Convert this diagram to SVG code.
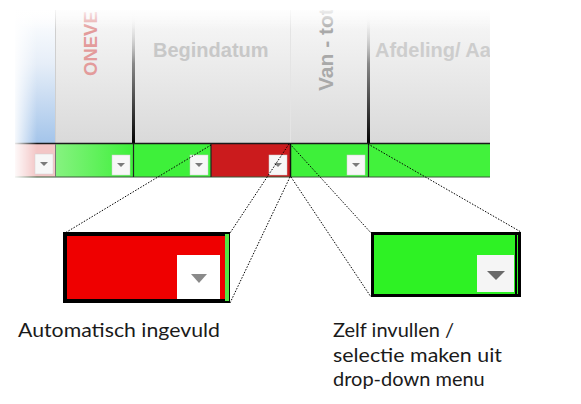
<svg xmlns="http://www.w3.org/2000/svg" width="581" height="404" viewBox="0 0 581 404">
<defs>
<linearGradient id="hdr" x1="0" y1="0" x2="0" y2="1">
<stop offset="0" stop-color="#f8f8f8"/>
<stop offset="0.2" stop-color="#f2f2f2"/>
<stop offset="1" stop-color="#d9d9d9"/>
</linearGradient>
<linearGradient id="blue" x1="0" y1="0" x2="0" y2="1">
<stop offset="0" stop-color="#ffffff"/>
<stop offset="0.4" stop-color="#e6eef8"/>
<stop offset="1" stop-color="#a3c4ea"/>
</linearGradient>
<linearGradient id="blk" x1="0" y1="0" x2="0" y2="1">
<stop offset="0" stop-color="#ffffff" stop-opacity="0"/>
<stop offset="0.4" stop-color="#888888"/>
<stop offset="1" stop-color="#000000"/>
</linearGradient>
<linearGradient id="leftfade" x1="0" y1="0" x2="1" y2="0">
<stop offset="0" stop-color="#ffffff" stop-opacity="0.9"/>
<stop offset="1" stop-color="#ffffff" stop-opacity="0"/>
</linearGradient>
<linearGradient id="topfade" x1="0" y1="0" x2="0" y2="1">
<stop offset="0" stop-color="#ffffff" stop-opacity="0.9"/>
<stop offset="1" stop-color="#ffffff" stop-opacity="0"/>
</linearGradient>
<linearGradient id="grn" x1="0" y1="0" x2="1" y2="0">
<stop offset="0" stop-color="#86f280"/>
<stop offset="1" stop-color="#3ef03a"/>
</linearGradient>
<clipPath id="hclip"><rect x="15" y="10" width="475" height="168"/></clipPath>
<g id="btn">
<rect x="0" y="0" width="18" height="20" fill="#f7f7f7" stroke="#d0d0d0" stroke-width="0.5"/>
<polygon points="5,8 13,8 9,12" fill="#7a7a7a"/>
</g>
</defs>
<style>
.dot{fill:none;stroke:#000;stroke-width:1;stroke-dasharray:1.5 1.5}
.hd{font-family:"Liberation Sans",Arial,sans-serif;font-weight:bold}
.lbl{font-family:Lato,"Noto Sans",sans-serif;font-size:20px;fill:#1a1a1a}
</style>
<rect width="581" height="404" fill="#ffffff"/>

<g id="table" clip-path="url(#hclip)">
<rect x="15" y="10" width="475" height="134" fill="url(#hdr)"/>
<rect x="15" y="10" width="40" height="134" fill="url(#blue)"/>
<line x1="55.5" y1="10" x2="55.5" y2="144" stroke="#cfcfcf" stroke-width="1"/>
<line x1="290.5" y1="10" x2="290.5" y2="144" stroke="#e4e4e4" stroke-width="1"/>
<rect x="132" y="10" width="3" height="134" fill="url(#blk)"/>
<rect x="367" y="10" width="3" height="134" fill="url(#blk)"/>
<text class="hd" font-size="18.5" fill="#e39b9b" transform="translate(96.5,76) rotate(-90)">ONEVE</text>
<text class="hd" font-size="20" fill="#c8c8c8" x="153" y="57">Begindatum</text>
<text class="hd" font-size="21" fill="#a9a9a9" transform="translate(333,91) rotate(-90)">Van - tot</text>
<text class="hd" font-size="20" fill="#cdcdcd" x="375" y="57">Afdeling/ Aanvr</text>
<rect x="15" y="144" width="40" height="33" fill="#f3c6c6"/>
<rect x="56" y="144" width="77" height="33" fill="url(#grn)"/>
<rect x="134" y="144" width="77" height="33" fill="#3ef03a"/>
<rect x="211" y="144" width="79" height="33" fill="#cb1b1d"/>
<rect x="291" y="144" width="77" height="33" fill="#3ef03a"/>
<rect x="369" y="144" width="121" height="33" fill="#42f23c"/>
<line x1="15" y1="143.5" x2="490" y2="143.5" stroke="#1a1a1a" stroke-width="1.5"/>
<line x1="15" y1="177" x2="490" y2="177" stroke="#3a5a3a" stroke-width="1.2"/>
<line x1="55.5" y1="144" x2="55.5" y2="177" stroke="#777" stroke-width="1"/>
<line x1="133.5" y1="144" x2="133.5" y2="177" stroke="#222" stroke-width="1.2"/>
<line x1="211" y1="144" x2="211" y2="177" stroke="#222" stroke-width="1.2"/>
<line x1="290.5" y1="144" x2="290.5" y2="177" stroke="#111" stroke-width="1.5"/>
<line x1="368.5" y1="144" x2="368.5" y2="177" stroke="#222" stroke-width="1.2"/>
<use href="#btn" x="35" y="154"/>
<use href="#btn" x="112" y="155"/>
<use href="#btn" x="190" y="155"/>
<use href="#btn" x="269" y="155"/>
<use href="#btn" x="347" y="155"/>
<rect x="15" y="10" width="22" height="168" fill="url(#leftfade)"/>
<rect x="15" y="8" width="475" height="22" fill="url(#topfade)"/>
</g>

<g id="auto">
<rect x="65" y="234" width="163" height="67" fill="#ef0000" stroke="#000" stroke-width="4"/>
<rect x="225" y="234" width="4" height="67" fill="#55e645"/>
<rect x="177" y="255" width="43" height="44" fill="#ffffff"/>
<polygon points="191,274 207,274 199,283" fill="#8a8a8a"/>
</g>

<g id="manual">
<rect x="372.5" y="233.5" width="147" height="62" fill="#2ef224" stroke="#000" stroke-width="3"/>
<line x1="516" y1="233" x2="516" y2="296" stroke="#000" stroke-width="2"/>
<rect x="477" y="255" width="37" height="37" fill="#f5f5f5"/>
<polygon points="487,271 505,271 496,280" fill="#6a6a6a"/>
</g>

<g id="connectors">
<line class="dot" x1="211" y1="145" x2="65" y2="233"/>
<line class="dot" x1="289" y1="144" x2="230" y2="233"/>
<line class="dot" x1="290" y1="177" x2="230" y2="303"/>
<line class="dot" x1="290" y1="144" x2="372" y2="234"/>
<line class="dot" x1="291" y1="177" x2="371" y2="297"/>
<line class="dot" x1="368" y1="144" x2="521" y2="232"/>
</g>

<g id="labels">
<text class="lbl" x="18" y="337" textLength="202" lengthAdjust="spacingAndGlyphs">Automatisch ingevuld</text>
<text class="lbl" x="333" y="337">Zelf invullen /</text>
<text class="lbl" x="333" y="361.5" textLength="169" lengthAdjust="spacingAndGlyphs">selectie maken uit</text>
<text class="lbl" x="333" y="386">drop-down menu</text>
</g>
</svg>
